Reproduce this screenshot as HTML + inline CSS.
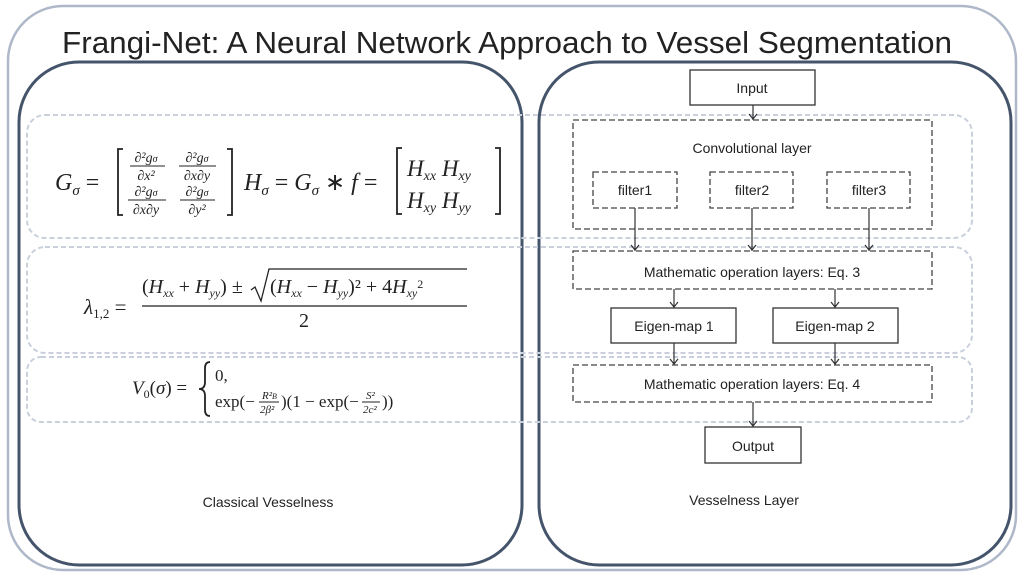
<!DOCTYPE html>
<html><head><meta charset="utf-8"><style>
html,body{margin:0;padding:0;background:#fff;}
svg{display:block;}
.s{font-family:"Liberation Sans",sans-serif;fill:#222;}
.m{font-family:"Liberation Serif",serif;fill:#222;}
.i{font-style:italic;}
</style></head><body>
<svg width="1024" height="576" viewBox="0 0 1024 576" xmlns="http://www.w3.org/2000/svg">
<rect x="0" y="0" width="1024" height="576" fill="#fff"/>
<rect x="8" y="6" width="1008" height="564" rx="55" fill="none" stroke="#aeb8c8" stroke-width="2.5"/>
<text x="507" y="53" text-anchor="middle" class="s" font-size="31" textLength="890" lengthAdjust="spacingAndGlyphs" fill="#111">Frangi-Net: A Neural Network Approach to Vessel Segmentation</text>
<rect x="19" y="62" width="503" height="503" rx="60" fill="none" stroke="#44546a" stroke-width="3"/>
<rect x="539" y="62" width="472" height="503" rx="60" fill="none" stroke="#44546a" stroke-width="3"/>
<g fill="none" stroke="#c9d0dc" stroke-width="2" stroke-dasharray="5,3">
<rect x="27" y="115" width="945" height="123" rx="18"/>
<rect x="27" y="247" width="945" height="106" rx="18"/>
<rect x="27" y="357" width="945" height="65" rx="14"/>
</g>
<!-- Equation 1 -->
<text x="55" y="190" class="m i" font-size="24">G<tspan font-size="15" dy="5">σ</tspan><tspan dy="-5" font-style="normal"> =</tspan></text>
<path d="M123,149 h-5 v66 h5 M227,149 h5 v66 h-5" stroke="#222" stroke-width="1.8" fill="none"/>
<g class="m i" font-size="14" text-anchor="middle">
<text x="146" y="162">∂²g<tspan font-size="10">σ</tspan></text><line x1="130" y1="166" x2="165" y2="166" stroke="#222"/><text x="146" y="180">∂x²</text>
<text x="197" y="162">∂²g<tspan font-size="10">σ</tspan></text><line x1="179" y1="166" x2="216" y2="166" stroke="#222"/><text x="197" y="180">∂x∂y</text>
<text x="146" y="196">∂²g<tspan font-size="10">σ</tspan></text><line x1="128" y1="200" x2="166" y2="200" stroke="#222"/><text x="146" y="214">∂x∂y</text>
<text x="197" y="196">∂²g<tspan font-size="10">σ</tspan></text><line x1="180" y1="200" x2="215" y2="200" stroke="#222"/><text x="197" y="214">∂y²</text>
</g>
<text x="244" y="190" class="m i" font-size="24">H<tspan font-size="15" dy="5">σ</tspan><tspan dy="-5" font-style="normal"> = </tspan>G<tspan font-size="15" dy="5">σ</tspan><tspan dy="-5" font-style="normal"> ∗ </tspan>f<tspan font-style="normal"> =</tspan></text>
<path d="M402,148 h-5 v66 h5 M495,148 h5 v66 h-5" stroke="#222" stroke-width="1.8" fill="none"/>
<text x="407" y="176" class="m i" font-size="23">H<tspan font-size="14" dy="4">xx</tspan><tspan dy="-4"> H</tspan><tspan font-size="14" dy="4">xy</tspan></text>
<text x="407" y="208" class="m i" font-size="23">H<tspan font-size="14" dy="4">xy</tspan><tspan dy="-4"> H</tspan><tspan font-size="14" dy="4">yy</tspan></text>
<!-- Equation 2 -->
<text x="84" y="314" class="m i" font-size="21">λ<tspan font-size="13" dy="4" font-style="normal">1,2</tspan><tspan dy="-4" font-style="normal"> =</tspan></text>
<line x1="142" y1="306" x2="467" y2="306" stroke="#222" stroke-width="1.3"/>
<text x="142" y="293" class="m" font-size="20">(<tspan font-style="italic">H</tspan><tspan font-size="12" dy="4" font-style="italic">xx</tspan><tspan dy="-4"> + </tspan><tspan font-style="italic">H</tspan><tspan font-size="12" dy="4" font-style="italic">yy</tspan><tspan dy="-4">) ±</tspan></text>
<path d="M251,290 l4,-3 l6,14 l8,-32 h198" stroke="#222" stroke-width="1.3" fill="none"/>
<text x="270" y="293" class="m" font-size="20">(<tspan font-style="italic">H</tspan><tspan font-size="12" dy="4" font-style="italic">xx</tspan><tspan dy="-4"> − </tspan><tspan font-style="italic">H</tspan><tspan font-size="12" dy="4" font-style="italic">yy</tspan><tspan dy="-4">)² + 4</tspan><tspan font-style="italic">H</tspan><tspan font-size="12" dy="4" font-style="italic">xy</tspan><tspan font-size="12" dy="-9">2</tspan></text>
<text x="304" y="327" class="m" font-size="20" text-anchor="middle">2</text>
<!-- Equation 3 -->
<text x="132" y="394" class="m i" font-size="19">V<tspan font-size="12" dy="4" font-style="normal">0</tspan><tspan dy="-4" font-style="normal">(</tspan>σ<tspan font-style="normal">) =</tspan></text>
<path d="M210,362 q-5,0 -5,6 v14 q0,7 -6,7 q6,0 6,7 v14 q0,6 5,6" stroke="#222" stroke-width="1.8" fill="none"/>
<text x="215" y="381" class="m" font-size="17">0,</text>
<text x="215" y="407" class="m" font-size="17">exp(−</text>
<text x="262" y="399" class="m i" font-size="11">R²<tspan font-size="8">B</tspan></text><line x1="259" y1="402" x2="279" y2="402" stroke="#222"/><text x="260" y="413" class="m i" font-size="11">2β²</text>
<text x="281" y="407" class="m" font-size="17">)(1 − exp(−</text>
<text x="366" y="399" class="m i" font-size="11">S²</text><line x1="362" y1="402" x2="380" y2="402" stroke="#222"/><text x="363" y="413" class="m i" font-size="11">2c²</text>
<text x="382" y="407" class="m" font-size="17">))</text>
<text x="268" y="507" text-anchor="middle" class="s" font-size="14">Classical Vesselness</text>
<text x="744" y="505" text-anchor="middle" class="s" font-size="14">Vesselness Layer</text>
<!-- Right diagram -->
<g fill="#fff" stroke="#333" stroke-width="1.3">
<rect x="690" y="70" width="125" height="35"/>
<rect x="611" y="308" width="125" height="35"/>
<rect x="773" y="308" width="125" height="35"/>
<rect x="705" y="427" width="96" height="36"/>
</g>
<g fill="none" stroke="#444" stroke-width="1.3" stroke-dasharray="6,3">
<rect x="573" y="120" width="359" height="109"/>
<rect x="593" y="172" width="84" height="36"/>
<rect x="710" y="172" width="83" height="36"/>
<rect x="827" y="172" width="83" height="36"/>
<rect x="573" y="251" width="359" height="38"/>
<rect x="573" y="365" width="359" height="37"/>
</g>
<g stroke="#333" stroke-width="1.2" fill="none">
<path d="M753,105 v15 M749,114 l4,5 l4,-5"/>
<path d="M635,208 v43 M631,245 l4,5 l4,-5"/>
<path d="M752,208 v43 M748,245 l4,5 l4,-5"/>
<path d="M869,208 v43 M865,245 l4,5 l4,-5"/>
<path d="M674,289 v19 M670,302 l4,5 l4,-5"/>
<path d="M835,289 v19 M831,302 l4,5 l4,-5"/>
<path d="M674,343 v22 M670,359 l4,5 l4,-5"/>
<path d="M835,343 v22 M831,359 l4,5 l4,-5"/>
<path d="M753,402 v25 M749,421 l4,5 l4,-5"/>
</g>
<g class="s" font-size="14" text-anchor="middle">
<text x="752" y="93">Input</text>
<text x="752" y="153">Convolutional layer</text>
<text x="635" y="195">filter1</text>
<text x="752" y="195">filter2</text>
<text x="869" y="195">filter3</text>
<text x="752" y="277">Mathematic operation layers: Eq. 3</text>
<text x="674" y="331">Eigen-map 1</text>
<text x="835" y="331">Eigen-map 2</text>
<text x="752" y="389">Mathematic operation layers: Eq. 4</text>
<text x="753" y="451">Output</text>
</g>
</svg>
</body></html>
